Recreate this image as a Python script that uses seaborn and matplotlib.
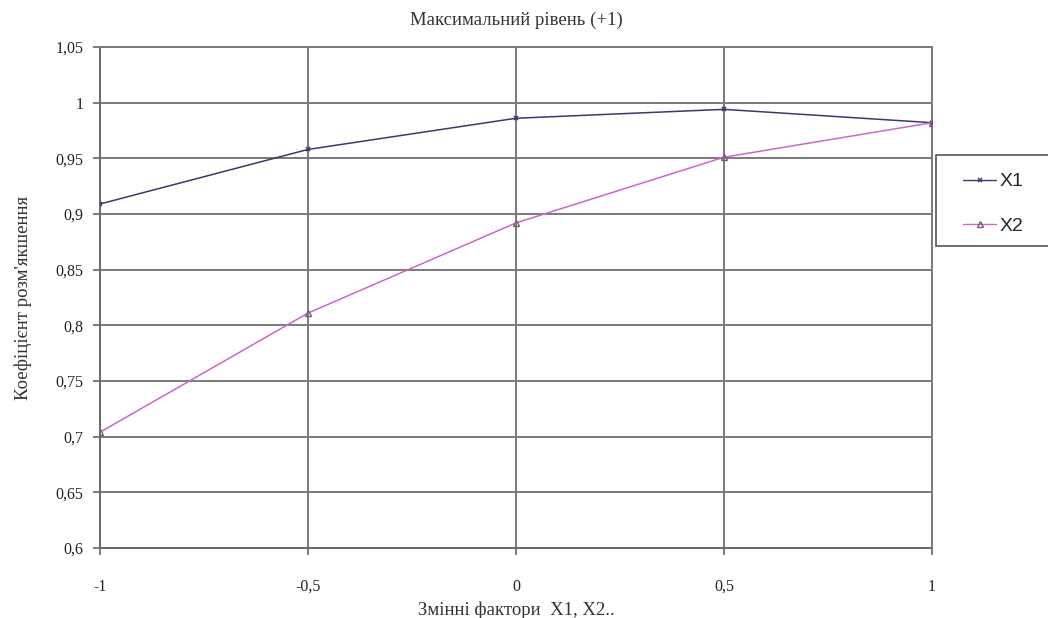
import matplotlib
matplotlib.use("Agg")
import matplotlib.pyplot as plt
import seaborn as sns
import pandas as pd
from matplotlib.ticker import FixedLocator
from matplotlib.lines import Line2D
from matplotlib.patches import Rectangle

x_levels = [-1, -0.5, 0, 0.5, 1]
x1_values = [0.909, 0.958, 0.986, 0.994, 0.982]
x2_values = [0.704, 0.811, 0.892, 0.951, 0.982]
series_names = ["X1", "X2"]
x_tick_labels = ["-1", "-0,5", "0", "0,5", "1"]
y_ticks = [0.6, 0.65, 0.7, 0.75, 0.8, 0.85, 0.9, 0.95, 1.0, 1.05]
y_tick_labels = ["0,6", "0,65", "0,7", "0,75", "0,8", "0,85", "0,9", "0,95", "1", "1,05"]

df1 = pd.DataFrame({"x": x_levels, "y": x1_values})
df2 = pd.DataFrame({"x": x_levels, "y": x2_values})

sns.set_theme(style="white")
plt.rcParams["font.family"] = ["Liberation Serif", "DejaVu Serif"]

fig = plt.figure(figsize=(10.48, 6.18), dpi=100)
ax = fig.add_axes([100 / 1048, 1 - 548 / 618, (932 - 100) / 1048, (548 - 47) / 618])

c1, c2 = "#3a3a6e", "#cc66cc"
edge2 = "#7a5a7a"
sns.lineplot(data=df1, x="x", y="y", color=c1, marker="x", linewidth=1.1,
             markersize=3.5, markeredgewidth=1.1, markeredgecolor=c1, ax=ax, zorder=3)
sns.lineplot(data=df2, x="x", y="y", color=c2, marker="^", linewidth=1.1,
             markersize=5, markerfacecolor="none", markeredgecolor=edge2,
             markeredgewidth=1.0, ax=ax, zorder=3)

ax.set_xlim(-1, 1)
ax.set_ylim(0.6, 1.05)
ax.xaxis.set_major_locator(FixedLocator(x_levels))
ax.set_xticklabels(x_tick_labels)
ax.yaxis.set_major_locator(FixedLocator(y_ticks))
ax.set_yticklabels(y_tick_labels)

grid_c = "#7a7a7a"
ax.grid(True, color=grid_c, linewidth=1.4)
ax.set_axisbelow(True)
for side in ["top", "right"]:
    ax.spines[side].set_color(grid_c)
    ax.spines[side].set_linewidth(1.4)
for side in ["left", "bottom"]:
    ax.spines[side].set_color("#6a6a6a")
    ax.spines[side].set_linewidth(1.4)

ax.tick_params(axis="both", which="major", direction="out", length=5, width=1.2,
               color="#6a6a6a", labelsize=11.5, labelcolor="#222222",
               bottom=True, left=True)
ax.tick_params(axis="x", pad=17)
ax.tick_params(axis="y", pad=7)

ax.set_title("Максимальний рівень (+1)", fontsize=13.5, color="#333333", pad=16)
ax.set_xlabel("Змінні фактори  Х1, Х2..", fontsize=13.5, color="#333333", labelpad=5)
ax.set_ylabel("Коефіцієнт розм'якшення", fontsize=13.5, color="#333333", labelpad=17)

# legend box (extends past the right edge, as in the reference)
fig.patches.append(Rectangle((936 / 1048, 1 - 246 / 618), 130 / 1048, 91 / 618,
                             transform=fig.transFigure, facecolor="white",
                             edgecolor="#555555", linewidth=1.2, zorder=1))

handles = [
    Line2D([0], [0], color=c1, marker="x", markersize=3.5, markeredgewidth=1.1,
           linewidth=1.0),
    Line2D([0], [0], color=c2, marker="^", markersize=4.5, markerfacecolor="none",
           markeredgecolor=edge2, linewidth=1.0),
]
leg = fig.legend(handles, series_names, loc="center left",
                 bbox_to_anchor=(963 / 1048, 1 - 204 / 618),
                 frameon=False,
                 prop={"family": "Liberation Sans", "size": 14},
                 handlelength=1.7, labelspacing=1.4, borderpad=0,
                 borderaxespad=0, handletextpad=0.2)

fig.savefig("out.png", dpi=100)
